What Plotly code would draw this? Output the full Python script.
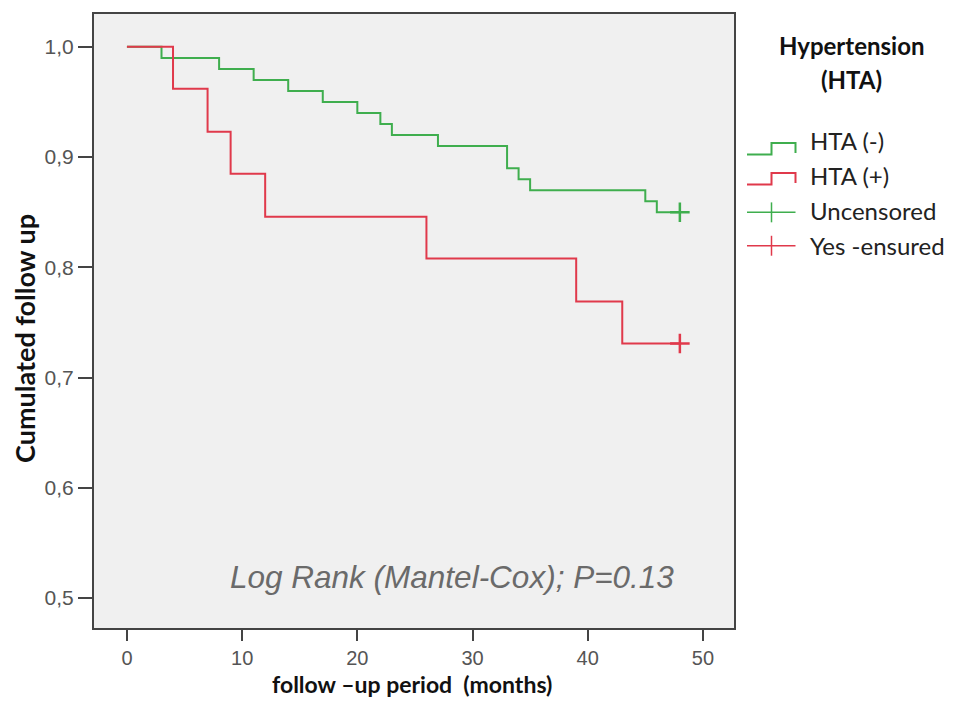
import plotly.graph_objects as go

# Data
neg_time = [0, 3, 8, 11, 14, 17, 20, 22, 23, 27, 33, 34, 35, 45, 46, 48]
neg_surv = [1.0, 0.99, 0.98, 0.97, 0.96, 0.95, 0.94, 0.93, 0.92, 0.91, 0.89, 0.88, 0.87, 0.86, 0.85, 0.85]
pos_time = [0, 4, 7, 9, 12, 26, 39, 43, 48]
pos_surv = [1.0, 0.962, 0.923, 0.885, 0.846, 0.808, 0.769, 0.731, 0.731]
neg_cens_t = [48]
neg_cens_s = [0.85]
pos_cens_t = [48]
pos_cens_s = [0.731]
x_ticks = [0, 10, 20, 30, 40, 50]
y_ticks = [0.5, 0.6, 0.7, 0.8, 0.9, 1.0]
legend_labels = ["HTA (-)", "HTA (+)", "Uncensored", "Yes -ensured"]

GREEN = "#3fae4e"
RED = "#e0394b"

BODY = 8  # default page margin around the plot div
W, H = 956 - 2 * BODY, 705 - 2 * BODY
# plot-area edges in page pixels
L, R, T, B = 94, 734, 12, 628


def px(xp):
    return (xp - L) / (R - L)


def py(yp):
    return (B - yp) / (B - T)


LABEL_FONT = "Lato, Open Sans, sans-serif"
ARIAL = "Liberation Sans, Arial, sans-serif"

fig = go.Figure()
fig.add_trace(go.Scatter(x=neg_time, y=neg_surv, mode="lines", line=dict(color=GREEN, width=2, shape="hv"),
                         showlegend=False, hoverinfo="x+y"))
fig.add_trace(go.Scatter(x=pos_time, y=pos_surv, mode="lines", line=dict(color=RED, width=2, shape="hv"),
                         showlegend=False, hoverinfo="x+y"))
fig.add_trace(go.Scatter(x=neg_cens_t, y=neg_cens_s, mode="markers",
                         marker=dict(symbol="cross-thin", size=14, line=dict(color=GREEN, width=2.5)),
                         showlegend=False))
fig.add_trace(go.Scatter(x=pos_cens_t, y=pos_cens_s, mode="markers",
                         marker=dict(symbol="cross-thin", size=14, line=dict(color=RED, width=2.5)),
                         showlegend=False))

shapes = []
annotations = []

# Legend: step glyphs
for col, ylow, yhigh in [(GREEN, 153, 141.5), (RED, 183, 171.5)]:
    path = "M {} {} L {} {} L {} {} L {} {} L {} {}".format(
        px(747), py(ylow), px(771.5), py(ylow), px(771.5), py(yhigh), px(795.5), py(yhigh), px(795.5), py(ylow - 1.5))
    shapes.append(dict(type="path", xref="paper", yref="paper", path=path,
                       line=dict(color=col, width=2)))
# Legend: censor glyphs
for col, yc in [(GREEN, 211), (RED, 244.5)]:
    shapes.append(dict(type="line", xref="paper", yref="paper", x0=px(747), x1=px(795.5), y0=py(yc), y1=py(yc),
                       line=dict(color=col, width=1.5)))
    shapes.append(dict(type="line", xref="paper", yref="paper", x0=px(771.5), x1=px(771.5), y0=py(yc - 10),
                       y1=py(yc + 10), line=dict(color=col, width=1.5)))

for lab, yc in zip(legend_labels, [139, 174, 209, 244]):
    annotations.append(dict(text=lab, xref="paper", yref="paper", x=px(808), y=py(yc), xanchor="left",
                            yanchor="middle", showarrow=False,
                            font=dict(family=LABEL_FONT, size=24, color="#222")))

annotations.append(dict(text="<b>Hypertension</b>", xref="paper", yref="paper", x=px(851), y=py(44),
                        xanchor="center", yanchor="middle", showarrow=False,
                        font=dict(family=LABEL_FONT, size=24, color="#111")))
annotations.append(dict(text="<b>(HTA)</b>", xref="paper", yref="paper", x=px(851), y=py(78),
                        xanchor="center", yanchor="middle", showarrow=False,
                        font=dict(family=LABEL_FONT, size=24, color="#111")))

# axis titles
annotations.append(dict(text="<b>follow \u2013up period&nbsp;&nbsp;(months)</b>", xref="paper", yref="paper",
                        x=px(412), y=py(684), xanchor="center", yanchor="middle", showarrow=False,
                        font=dict(family=LABEL_FONT, size=23, color="#111")))
annotations.append(dict(text="<b>Cumulated follow up</b>", xref="paper", yref="paper", textangle=-90,
                        x=px(25), y=py(338), xanchor="center", yanchor="middle", showarrow=False,
                        font=dict(family=LABEL_FONT, size=27, color="#111")))

annotations.append(dict(text="<i>Log Rank (Mantel-Cox); P=0.13</i>", x=28.2, y=0.519, xref="x", yref="y",
                        xanchor="center", yanchor="middle", showarrow=False,
                        font=dict(family=ARIAL, size=31.5, color="#6a6a6a")))

fig.update_layout(
    width=W, height=H,
    margin=dict(l=L - BODY, r=W - (R - BODY), t=T - BODY, b=H - (B - BODY)),
    paper_bgcolor="white",
    plot_bgcolor="#f0f0f0",
    separators=",.",
    shapes=shapes,
    annotations=annotations,
    showlegend=False,
)
fig.update_xaxes(range=[-2.86, 52.7], tickvals=x_ticks, ticks="outside", ticklen=11, tickwidth=2,
                 tickcolor="#444", showgrid=False, zeroline=False, showline=True, mirror=True,
                 linecolor="#444", linewidth=2,
                 tickfont=dict(family=ARIAL, size=20, color="#555"))
fig.update_yaxes(range=[0.4729, 1.0298], tickvals=y_ticks, tickformat=".1f", ticks="outside", ticklen=14,
                 tickwidth=2, tickcolor="#444", showgrid=False, zeroline=False, showline=True, mirror=True,
                 linecolor="#444", linewidth=2,
                 tickfont=dict(family=ARIAL, size=21, color="#555"))

fig.write_html("out.html")
